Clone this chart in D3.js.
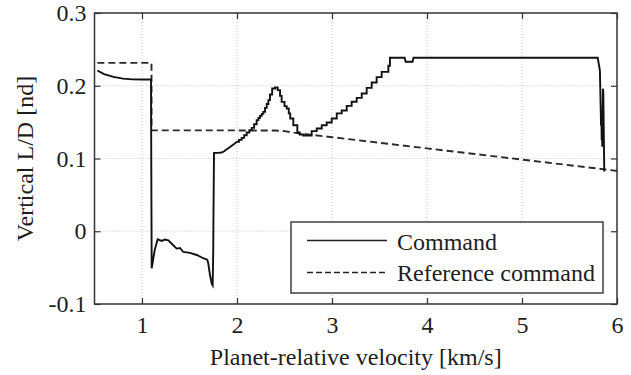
<!DOCTYPE html>
<html>
<head>
<meta charset="utf-8">
<script src="https://cdn.jsdelivr.net/npm/d3@7/dist/d3.min.js"></script>
<style>
  html, body { margin: 0; padding: 0; background: #fff; }
  svg { display: block; }
  text { font-family: "Liberation Serif", "Times New Roman", serif; fill: #1e1e1e; }
</style>
</head>
<body>
<svg id="chart" width="631" height="375"></svg>
<script>
// ---- data ----
const xTicks = [1, 2, 3, 4, 5, 6];
const xTickLabels = ["1", "2", "3", "4", "5", "6"];
const yTicks = [-0.1, 0, 0.1, 0.2, 0.3];
const yTickLabels = ["-0.1", "0", "0.1", "0.2", "0.3"];
const xLabel = "Planet-relative velocity [km/s]";
const yLabel = "Vertical L/D [nd]";
const seriesNames = ["Command", "Reference command"];

const commandV = [
  0.53, 0.60, 0.70, 0.80, 0.90, 1.00, 1.095, 1.098, 1.102, 1.135,
  1.165, 1.207, 1.242, 1.277, 1.329, 1.365, 1.40, 1.435, 1.505, 1.576,
  1.645, 1.687, 1.698, 1.716, 1.734, 1.744, 1.75, 1.752, 1.758, 1.80,
  1.839, 1.865, 1.892, 1.92, 1.944, 1.97, 1.997, 2.02, 2.02, 2.049,
  2.049, 2.075, 2.075, 2.102, 2.102, 2.13, 2.13, 2.155, 2.155, 2.18,
  2.18, 2.207, 2.207, 2.225, 2.225, 2.242, 2.242, 2.26, 2.26, 2.277,
  2.277, 2.295, 2.295, 2.313, 2.313, 2.33, 2.33, 2.347, 2.347, 2.37,
  2.37, 2.40, 2.40, 2.428, 2.428, 2.453, 2.453, 2.47, 2.47, 2.50,
  2.50, 2.523, 2.523, 2.545, 2.545, 2.56, 2.56, 2.593, 2.593, 2.635,
  2.635, 2.66, 2.66, 2.698, 2.698, 2.786, 2.786, 2.839, 2.839, 2.892,
  2.892, 2.944, 2.944, 2.997, 2.997, 3.05, 3.05, 3.102, 3.102, 3.155,
  3.155, 3.207, 3.207, 3.26, 3.26, 3.313, 3.313, 3.365, 3.365, 3.418,
  3.418, 3.47, 3.47, 3.523, 3.523, 3.593, 3.593, 3.61, 3.61, 3.765,
  3.775, 3.848, 3.858, 5.797, 5.82, 5.828, 5.832, 5.835, 5.839, 5.842,
  5.845, 5.852, 5.856, 5.866
];
const commandLD = [
  0.221, 0.216, 0.2122, 0.2098, 0.2088, 0.2085, 0.2085, 0.08, -0.051, -0.025,
  -0.011, -0.0133, -0.0114, -0.0124, -0.0193, -0.0238, -0.023, -0.0285, -0.0298, -0.0326,
  -0.0371, -0.039, -0.0444, -0.0605, -0.072, -0.0743, -0.026, 0.0175, 0.1077, 0.1077,
  0.1082, 0.110, 0.1128, 0.115, 0.1174, 0.120, 0.1229, 0.1229, 0.1256, 0.1256,
  0.1284, 0.1284, 0.132, 0.132, 0.1357, 0.1357, 0.139, 0.139, 0.1421, 0.1421,
  0.147, 0.147, 0.1527, 0.1527, 0.1556, 0.1556, 0.1586, 0.1586, 0.1614, 0.1614,
  0.1641, 0.1641, 0.1696, 0.1696, 0.175, 0.175, 0.1802, 0.1802, 0.188, 0.188,
  0.1962, 0.1962, 0.1975, 0.1975, 0.194, 0.194, 0.1861, 0.1861, 0.1779, 0.1779,
  0.172, 0.172, 0.1688, 0.1688, 0.162, 0.162, 0.155, 0.155, 0.1458, 0.1458,
  0.1357, 0.1357, 0.133, 0.133, 0.1315, 0.1315, 0.1376, 0.1376, 0.1413, 0.1413,
  0.1458, 0.1458, 0.1495, 0.1495, 0.155, 0.155, 0.162, 0.162, 0.166, 0.166,
  0.1724, 0.1724, 0.178, 0.178, 0.1834, 0.1834, 0.1894, 0.1894, 0.1971, 0.1971,
  0.2045, 0.2045, 0.2118, 0.2118, 0.2191, 0.2191, 0.2274, 0.2274, 0.2384, 0.2384,
  0.233, 0.233, 0.2384, 0.2384, 0.221, 0.171, 0.145, 0.165, 0.125, 0.15,
  0.116, 0.196, 0.19, 0.082
];

const referenceV = [0.53, 1.10, 1.10, 2.0, 2.4, 2.5, 2.6, 2.7, 3.0, 3.5, 4.0, 4.5, 5.0, 5.5, 6.0];
const referenceLD = [0.2315, 0.2315, 0.1386, 0.1386, 0.1384, 0.1376, 0.1355, 0.1338, 0.1293, 0.1216, 0.1139, 0.1062, 0.0985, 0.0908, 0.0830];

// ---- layout ----
const svg = d3.select("#chart");
const pL = 94.5, pR = 617, pT = 13, pB = 304;
const x = d3.scaleLinear().domain([0.5, 6]).range([pL, pR]);
const y = d3.scaleLinear().domain([-0.1, 0.3]).range([pB, pT]);
const fontSize = 24;

// grid
const grid = svg.append("g").attr("stroke", "#c4c4c4").attr("stroke-width", 1).attr("stroke-dasharray", "1,2");
xTicks.filter(v => v > 0.5 && v < 6).forEach(v => {
  grid.append("line").attr("x1", x(v)).attr("x2", x(v)).attr("y1", pT).attr("y2", pB);
});
yTicks.filter(v => v > -0.1 && v < 0.3).forEach(v => {
  grid.append("line").attr("x1", pL).attr("x2", pR).attr("y1", y(v)).attr("y2", y(v));
});

// lines
const cmd = commandV.map((v, i) => [v, commandLD[i]]);
const ref = referenceV.map((v, i) => [v, referenceLD[i]]);
const line = d3.line().x(d => x(d[0])).y(d => y(d[1]));

svg.append("path").datum(ref).attr("d", line)
  .attr("fill", "none").attr("stroke", "#2a2a2a").attr("stroke-width", 1.9)
  .attr("stroke-dasharray", "7,4");
svg.append("path").datum(cmd).attr("d", line)
  .attr("fill", "none").attr("stroke", "#111").attr("stroke-width", 1.9)
  .attr("stroke-linejoin", "miter");

// axes (inward ticks on all sides)
function styleAxis(g) {
  g.select(".domain").remove();
  g.selectAll(".tick line").attr("stroke", "#333").attr("stroke-width", 1.2);
  g.selectAll(".tick text").attr("font-size", fontSize).attr("fill", "#1e1e1e")
    .style("font-family", '"Liberation Serif", "Times New Roman", serif');
}
svg.append("g").attr("transform", `translate(0,${pB})`)
  .call(d3.axisBottom(x).tickValues(xTicks).tickSizeInner(-6).tickSizeOuter(0).tickPadding(12)
    .tickFormat((d, i) => xTickLabels[i]))
  .call(styleAxis);
svg.append("g").attr("transform", `translate(0,${pT})`)
  .call(d3.axisTop(x).tickValues(xTicks).tickSizeInner(-6).tickSizeOuter(0).tickFormat(""))
  .call(styleAxis);
svg.append("g").attr("transform", `translate(${pL},0)`)
  .call(d3.axisLeft(y).tickValues(yTicks).tickSizeInner(-6).tickSizeOuter(0).tickPadding(8)
    .tickFormat((d, i) => yTickLabels[i]))
  .call(styleAxis);
svg.append("g").attr("transform", `translate(${pR},0)`)
  .call(d3.axisRight(y).tickValues(yTicks).tickSizeInner(-6).tickSizeOuter(0).tickFormat(""))
  .call(styleAxis);

// frame
svg.append("rect").attr("x", pL).attr("y", pT).attr("width", pR - pL).attr("height", pB - pT)
  .attr("fill", "none").attr("stroke", "#333").attr("stroke-width", 1.5);

// axis labels
svg.append("text").attr("x", (pL + pR) / 2).attr("y", 365)
  .attr("text-anchor", "middle").attr("font-size", fontSize).text(xLabel);
svg.append("text").attr("transform", `translate(33,${(pT + pB) / 2}) rotate(-90)`)
  .attr("text-anchor", "middle").attr("font-size", fontSize).text(yLabel);

// legend
const lg = svg.append("g");
lg.append("rect").attr("x", 291).attr("y", 222).attr("width", 312).attr("height", 71)
  .attr("fill", "#fff").attr("stroke", "#333").attr("stroke-width", 1.4);
const legendRows = [
  { name: seriesNames[0], dash: null, ly: 240.5, ty: 250 },
  { name: seriesNames[1], dash: "6,3", ly: 272.5, ty: 281 }
];
legendRows.forEach(r => {
  const l = lg.append("line").attr("x1", 307).attr("x2", 387).attr("y1", r.ly).attr("y2", r.ly)
    .attr("stroke", "#222").attr("stroke-width", 1.3);
  if (r.dash) l.attr("stroke-dasharray", r.dash);
  lg.append("text").attr("x", 397).attr("y", r.ty).attr("font-size", fontSize).text(r.name);
});
</script>
</body>
</html>
